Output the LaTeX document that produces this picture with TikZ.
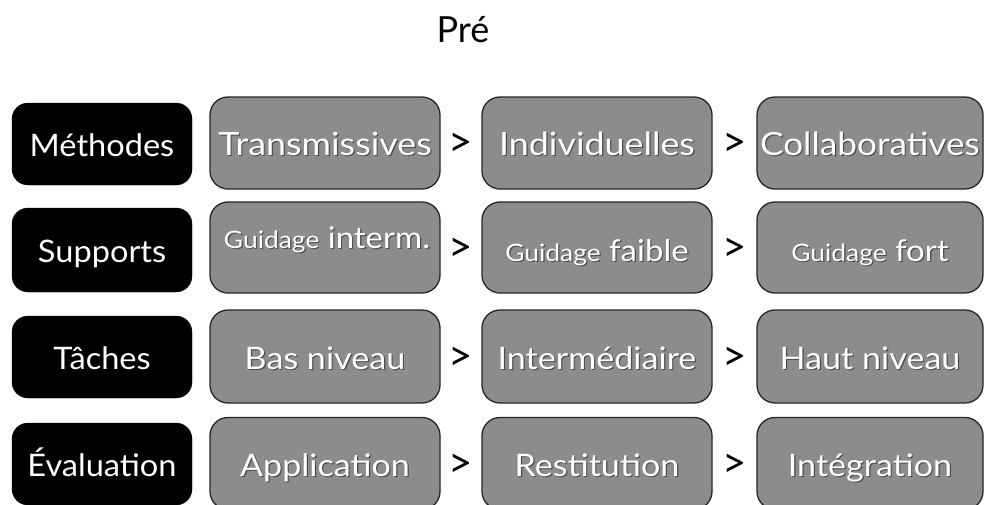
\documentclass[tikz,border=0pt]{standalone}
\usepackage{fontspec}
\usepackage{graphicx}
\setmainfont{Lato}
\usetikzlibrary{calc}
\newcommand\stx[2][1.1]{\scalebox{#1}[1]{#2}}
\newcommand\shtxt[2][1.1]{\leavevmode\rlap{\raisebox{-1.2pt}{\hspace{1.2pt}\textcolor{black!70}{\stx[#1]{#2}}}}\stx[#1]{#2}}
\newcommand\gsm[1]{{\fontsize{24}{26}\selectfont #1}}
\tikzset{
  catbox/.style={rectangle, rounded corners=16pt, fill=black, draw=black,
    minimum width=180pt, minimum height=82pt, text=white, inner sep=0pt,
    text height=25pt, text depth=0pt,
    font=\fontsize{31}{34}\selectfont},
  graybox/.style={rectangle, rounded corners=18pt, fill=black!45, draw=black!85,
    line width=1.3pt, minimum width=230pt, minimum height=92pt, text=white,
    text height=25pt, text depth=0pt,
    inner sep=0pt, font=\fontsize{31}{34}\selectfont},
  bigrow/.style={font=\fontsize{32}{35}\selectfont},
  gt/.style={font=\fontsize{42}{46}\selectfont, text=black, inner sep=0pt, yshift=-2pt},
}
\begin{document}
\begin{tikzpicture}[x=1pt,y=-1pt]
\useasboundingbox (0,0) rectangle (984,504);
\clip (0,0) rectangle (984,504);
\fill[white] (0,0) rectangle (984,504);
\node[font=\fontsize{36}{40}\selectfont, inner sep=0pt] (title) at (463,30) {Pré};
% row 1
\node[catbox] (c1) at (102,144) {\stx[1.05]{Méthodes}};
\node[graybox, bigrow] (a1) at (325,143) {\shtxt[1.12]{Transmissives}};
\node[graybox, bigrow] (b1) at (597,143) {\shtxt[1.12]{Individuelles}};
\node[graybox, bigrow, minimum width=226pt] (d1) at (870,143) {\shtxt[1.1]{Collaboratives}};
% row 2
\node[catbox, minimum height=84pt] (c2) at (102,250) {\stx[1.05]{Supports}};
\node[graybox, minimum height=91pt] (a2) at (325,247.5) {};
\node[text=white, inner sep=0pt, anchor=base, font=\fontsize{30}{33}\selectfont] (ta2) at (327,248) {\shtxt{\gsm{Guidage} interm.}};
\node[graybox, minimum height=91pt, font=\fontsize{30}{33}\selectfont, text height=27pt] (b2) at (597,247.5) {\shtxt{\gsm{Guidage} faible}};
\node[graybox, minimum height=91pt, minimum width=226pt, font=\fontsize{30}{33}\selectfont, text height=27pt] (d2) at (870,247.5) {\shtxt{\gsm{Guidage} fort}};
% row 3
\node[catbox] (c3) at (102,357) {\stx[1.05]{Tâches}};
\node[graybox, minimum height=93pt] (a3) at (325,356.5) {\shtxt{Bas niveau}};
\node[graybox, minimum height=93pt] (b3) at (597,356.5) {\shtxt{Intermédiaire}};
\node[graybox, minimum height=93pt, minimum width=226pt] (d3) at (870,356.5) {\shtxt{Haut niveau}};
% row 4
\node[catbox] (c4) at (102,464) {\stx[1.05]{Évaluation}};
\node[graybox] (a4) at (325,463.5) {\shtxt{Application}};
\node[graybox] (b4) at (597,463.5) {\shtxt{Restitution}};
\node[graybox, minimum width=226pt] (d4) at (870,463.5) {\shtxt{Intégration}};
% separators
\foreach \r in {1,2,3,4}{
  \node[gt] (s\r a) at ($(a\r.east)!0.5!(b\r.west)$) {>};
  \node[gt] (s\r b) at ($(b\r.east)!0.5!(d\r.west)$) {>};
}
\end{tikzpicture}
\end{document}
